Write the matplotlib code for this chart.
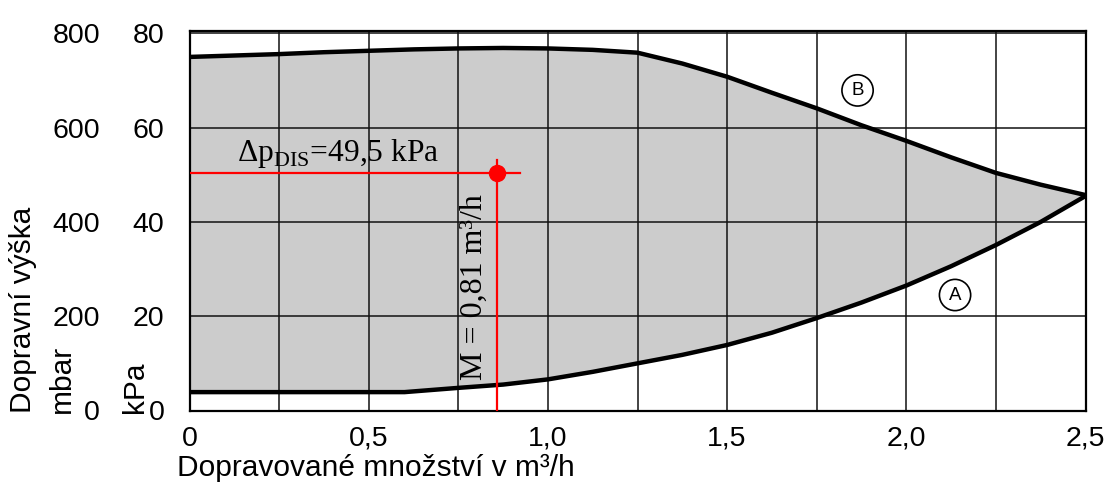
import numpy as np
import matplotlib
matplotlib.use("Agg")
import matplotlib.pyplot as plt

plt.rcParams['font.family'] = ['Liberation Sans', 'DejaVu Sans']
plt.rcParams['mathtext.fontset'] = 'custom'
plt.rcParams['mathtext.rm'] = 'Liberation Serif'

# Curve A (lower limit), flow in m3/h, head in kPa
qa = [0, 0.25, 0.5, 0.6, 0.75, 0.875, 1.0, 1.125, 1.25, 1.375, 1.5, 1.625,
      1.75, 1.875, 2.0, 2.125, 2.25, 2.375, 2.5]
ha = [3.9, 3.9, 3.9, 3.9, 4.8, 5.5, 6.6, 8.2, 10.0, 11.8, 13.9, 16.5,
      19.6, 22.9, 26.5, 30.6, 35.1, 40.0, 45.5]

# Curve B (upper limit)
qb = [0, 0.125, 0.25, 0.375, 0.5, 0.625, 0.75, 0.875, 1.0, 1.125, 1.25, 1.375,
      1.5, 1.625, 1.75, 1.875, 2.0, 2.125, 2.25, 2.375, 2.5]
hb = [75.0, 75.3, 75.6, 76.0, 76.3, 76.6, 76.8, 76.9, 76.8, 76.5, 75.9, 73.6,
      70.8, 67.4, 64.1, 60.5, 57.2, 53.7, 50.4, 47.9, 45.7]

# operating point
m_point = 0.857
dp_point = 50.4

x_ticks = [0, 0.5, 1.0, 1.5, 2.0, 2.5]
x_labels = ['0', '0,5', '1,0', '1,5', '2,0', '2,5']
kpa_ticks = [0, 20, 40, 60, 80]
mbar_ticks = [0, 200, 400, 600, 800]

fig = plt.figure(figsize=(11.04, 4.83), dpi=100)
ax = fig.add_axes([189.5 / 1104, (483 - 410.5) / 483, 896 / 1104, (410.5 - 31) / 483])
ax.set_xlim(0, 2.5)
ax.set_ylim(0, 80.5)

# shaded working range
poly_x = np.concatenate([qa, qb[::-1]])
poly_y = np.concatenate([ha, hb[::-1]])
ax.fill(poly_x, poly_y, color='#cccccc', lw=0, zorder=0.3)

ax.plot(qa, ha, color='black', lw=3.2, zorder=3, solid_capstyle='butt')
ax.plot(qb, hb, color='black', lw=3.2, zorder=3, solid_capstyle='butt')

# grid
ax.set_xticks(x_ticks, x_labels)
ax.set_xticks(np.arange(0, 2.51, 0.25), minor=True)
ax.set_yticks(kpa_ticks, [str(v) for v in kpa_ticks])
ax.set_axisbelow(True)
ax.grid(which='both', color='#111111', lw=1.1)
ax.tick_params(which='both', length=0, labelsize=20.5)
ax.tick_params(axis='x', pad=11)
ax.tick_params(axis='y', pad=18)
for s in ax.spines.values():
    s.set_linewidth(1.6)

sec = ax.secondary_yaxis(-89.5 / 896, functions=(lambda y: y * 10, lambda y: y / 10))
sec.set_yticks(mbar_ticks, [str(v) for v in mbar_ticks])
sec.spines['left'].set_visible(False)
sec.tick_params(length=0, pad=0, labelsize=20.5)

# operating point marker
ax.plot([0, 0.922], [dp_point, dp_point], color='red', lw=1.6, zorder=4)
ax.plot([m_point, m_point], [0, 53.1], color='red', lw=1.6, zorder=4)
ax.plot(m_point, dp_point, 'o', color='red', ms=11.5, zorder=5)

ax.text(0.133, 52.9, 'Δp$_\\mathregular{DIS}$=49,5 kPa', family='Liberation Serif',
        fontsize=22.7, ha='left', va='baseline', zorder=6)
ax.text(0.794, 6.4, 'M = 0,81 m³/h', family='Liberation Serif', fontsize=23,
        rotation=90, ha='center', va='bottom', zorder=6)

circ = dict(boxstyle='circle,pad=0.38', fc='none', ec='black', lw=1.2)
ax.text(1.864, 67.9, 'B', fontsize=13.5, ha='center', va='center', bbox=circ)
ax.text(2.136, 24.5, 'A', fontsize=13.5, ha='center', va='center', bbox=circ)

# axis titles
fig.text(23 / 1104, (483 - 413) / 483, 'Dopravní výška', rotation=90,
         ha='center', va='bottom', fontsize=21.5)
fig.text(62 / 1104, (483 - 413) / 483, 'mbar', rotation=90,
         ha='center', va='bottom', fontsize=21.5)
fig.text(135 / 1104, (483 - 413) / 483, 'kPa', rotation=90,
         ha='center', va='bottom', fontsize=21.5)
fig.text(177 / 1104, (483 - 476) / 483, 'Dopravované množství v m³/h',
         ha='left', va='baseline', fontsize=21.5)

fig.savefig('out.png', dpi=100)
